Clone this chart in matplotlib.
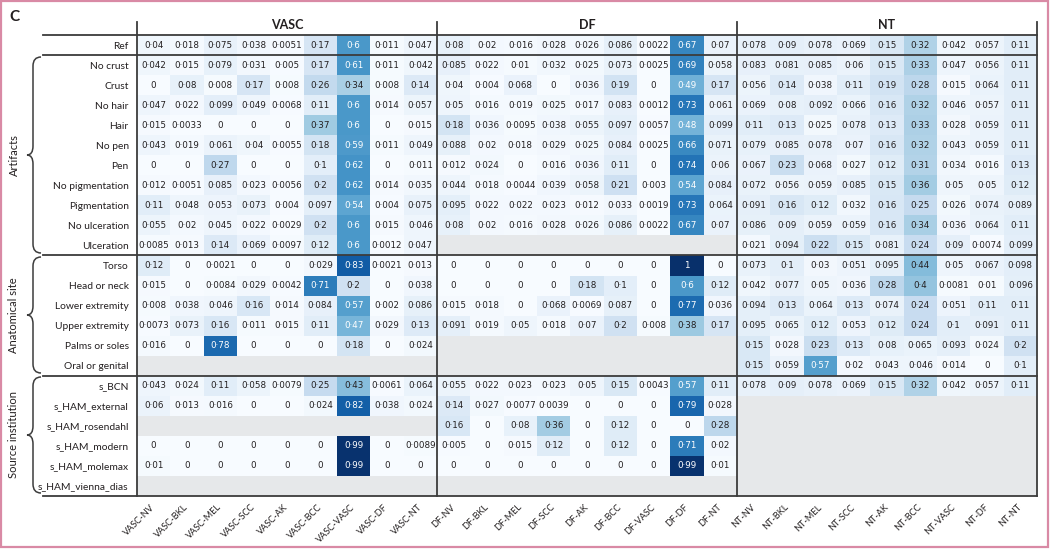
import numpy as np
import matplotlib
matplotlib.use("Agg")
import matplotlib.pyplot as plt
from matplotlib.path import Path
from matplotlib.patches import PathPatch, Rectangle

plt.rcParams['font.family'] = ['Lato', 'DejaVu Sans']

# groups of columns (true class) and predicted class inside each group
groups = ['VASC', 'DF', 'NT']
preds = ['NV', 'BKL', 'MEL', 'SCC', 'AK', 'BCC', 'VASC', 'DF', 'NT']

rows = ['Ref', 'No crust', 'Crust', 'No hair', 'Hair', 'No pen', 'Pen',
        'No pigmentation', 'Pigmentation', 'No ulceration', 'Ulceration',
        'Torso', 'Head or neck', 'Lower extremity', 'Upper extremity',
        'Palms or soles', 'Oral or genital',
        's_BCN', 's_HAM_external', 's_HAM_rosendahl', 's_HAM_modern',
        's_HAM_molemax', 's_HAM_vienna_dias']

# row groups: (label, first row, last row + 1)
row_groups = [('Artifacts', 1, 11), ('Anatomical site', 11, 17),
              ('Source institution', 17, 23)]

N = None
vasc = [
    [0.04, 0.018, 0.075, 0.038, 0.0051, 0.17, 0.6, 0.011, 0.047],
    [0.042, 0.015, 0.079, 0.031, 0.005, 0.17, 0.61, 0.011, 0.042],
    [0, 0.08, 0.008, 0.17, 0.008, 0.26, 0.34, 0.008, 0.14],
    [0.047, 0.022, 0.099, 0.049, 0.0068, 0.11, 0.6, 0.014, 0.057],
    [0.015, 0.0033, 0, 0, 0, 0.37, 0.6, 0, 0.015],
    [0.043, 0.019, 0.061, 0.04, 0.0055, 0.18, 0.59, 0.011, 0.049],
    [0, 0, 0.27, 0, 0, 0.1, 0.62, 0, 0.011],
    [0.012, 0.0051, 0.085, 0.023, 0.0056, 0.2, 0.62, 0.014, 0.035],
    [0.11, 0.048, 0.053, 0.073, 0.004, 0.097, 0.54, 0.004, 0.075],
    [0.055, 0.02, 0.045, 0.022, 0.0029, 0.2, 0.6, 0.015, 0.046],
    [0.0085, 0.013, 0.14, 0.069, 0.0097, 0.12, 0.6, 0.0012, 0.047],
    [0.12, 0, 0.0021, 0, 0, 0.029, 0.83, 0.0021, 0.013],
    [0.015, 0, 0.0084, 0.029, 0.0042, 0.71, 0.2, 0, 0.038],
    [0.008, 0.038, 0.046, 0.16, 0.014, 0.084, 0.57, 0.002, 0.086],
    [0.0073, 0.073, 0.16, 0.011, 0.015, 0.11, 0.47, 0.029, 0.13],
    [0.016, 0, 0.78, 0, 0, 0, 0.18, 0, 0.024],
    [N] * 9,
    [0.043, 0.024, 0.11, 0.058, 0.0079, 0.25, 0.43, 0.0061, 0.064],
    [0.06, 0.013, 0.016, 0, 0, 0.024, 0.82, 0.038, 0.024],
    [N] * 9,
    [0, 0, 0, 0, 0, 0, 0.99, 0, 0.0089],
    [0.01, 0, 0, 0, 0, 0, 0.99, 0, 0],
    [N] * 9,
]

df = [
    [0.08, 0.02, 0.016, 0.028, 0.026, 0.086, 0.0022, 0.67, 0.07],
    [0.085, 0.022, 0.01, 0.032, 0.025, 0.073, 0.0025, 0.69, 0.058],
    [0.04, 0.004, 0.068, 0, 0.036, 0.19, 0, 0.49, 0.17],
    [0.05, 0.016, 0.019, 0.025, 0.017, 0.083, 0.0012, 0.73, 0.061],
    [0.18, 0.036, 0.0095, 0.038, 0.055, 0.097, 0.0057, 0.48, 0.099],
    [0.088, 0.02, 0.018, 0.029, 0.025, 0.084, 0.0025, 0.66, 0.071],
    [0.012, 0.024, 0, 0.016, 0.036, 0.11, 0, 0.74, 0.06],
    [0.044, 0.018, 0.0044, 0.039, 0.058, 0.21, 0.003, 0.54, 0.084],
    [0.095, 0.022, 0.022, 0.023, 0.012, 0.033, 0.0019, 0.73, 0.064],
    [0.08, 0.02, 0.016, 0.028, 0.026, 0.086, 0.0022, 0.67, 0.07],
    [N] * 9,
    [0, 0, 0, 0, 0, 0, 0, 1, 0],
    [0, 0, 0, 0, 0.18, 0.1, 0, 0.6, 0.12],
    [0.015, 0.018, 0, 0.068, 0.0069, 0.087, 0, 0.77, 0.036],
    [0.091, 0.019, 0.05, 0.018, 0.07, 0.2, 0.008, 0.38, 0.17],
    [N] * 9,
    [N] * 9,
    [0.055, 0.022, 0.023, 0.023, 0.05, 0.15, 0.0043, 0.57, 0.11],
    [0.14, 0.027, 0.0077, 0.0039, 0, 0, 0, 0.79, 0.028],
    [0.16, 0, 0.08, 0.36, 0, 0.12, 0, 0, 0.28],
    [0.005, 0, 0.015, 0.12, 0, 0.12, 0, 0.71, 0.02],
    [0, 0, 0, 0, 0, 0, 0, 0.99, 0.01],
    [N] * 9,
]

nt = [
    [0.078, 0.09, 0.078, 0.069, 0.15, 0.32, 0.042, 0.057, 0.11],
    [0.083, 0.081, 0.085, 0.06, 0.15, 0.33, 0.047, 0.056, 0.11],
    [0.056, 0.14, 0.038, 0.11, 0.19, 0.28, 0.015, 0.064, 0.11],
    [0.069, 0.08, 0.092, 0.066, 0.16, 0.32, 0.046, 0.057, 0.11],
    [0.11, 0.13, 0.025, 0.078, 0.13, 0.33, 0.028, 0.059, 0.11],
    [0.079, 0.085, 0.078, 0.07, 0.16, 0.32, 0.043, 0.059, 0.11],
    [0.067, 0.23, 0.068, 0.027, 0.12, 0.31, 0.034, 0.016, 0.13],
    [0.072, 0.056, 0.059, 0.085, 0.15, 0.36, 0.05, 0.05, 0.12],
    [0.091, 0.16, 0.12, 0.032, 0.16, 0.25, 0.026, 0.074, 0.089],
    [0.086, 0.09, 0.059, 0.059, 0.16, 0.34, 0.036, 0.064, 0.11],
    [0.021, 0.094, 0.22, 0.15, 0.081, 0.24, 0.09, 0.0074, 0.099],
    [0.073, 0.1, 0.03, 0.051, 0.095, 0.44, 0.05, 0.067, 0.098],
    [0.042, 0.077, 0.05, 0.036, 0.28, 0.4, 0.0081, 0.01, 0.096],
    [0.094, 0.13, 0.064, 0.13, 0.074, 0.24, 0.051, 0.11, 0.11],
    [0.095, 0.065, 0.12, 0.053, 0.12, 0.24, 0.1, 0.091, 0.11],
    [0.15, 0.028, 0.23, 0.13, 0.08, 0.065, 0.093, 0.024, 0.2],
    [0.15, 0.059, 0.57, 0.02, 0.043, 0.046, 0.014, 0, 0.1],
    [0.078, 0.09, 0.078, 0.069, 0.15, 0.32, 0.042, 0.057, 0.11],
    [N] * 9,
    [N] * 9,
    [N] * 9,
    [N] * 9,
    [N] * 9,
]

cols = [g + '-' + p for g in groups for p in preds]
vals = np.hstack([np.array(b, dtype=float) for b in (vasc, df, nt)])
nr, nc = vals.shape

W, H = 1050, 549
fig = plt.figure(figsize=(W / 100, H / 100), dpi=100)
ax = fig.add_axes([137 / W, 1 - 496 / H, 900 / W, 461 / H])

cmap = plt.get_cmap('Blues').with_extremes(bad='#e6e8ea')
ax.pcolormesh(np.arange(nc + 1), np.arange(nr + 1), np.ma.masked_invalid(vals),
              cmap=cmap, vmin=0, vmax=1)
ax.set_facecolor('#e6e8ea')
ax.set_xlim(0, nc)
ax.set_ylim(nr, 0)
for s in ax.spines.values():
    s.set_visible(False)

for i in range(nr):
    for j in range(nc):
        v = vals[i, j]
        if np.isnan(v):
            continue
        ax.text(j + 0.5, i + 0.5, '{:g}'.format(v).replace('.', '\u00b7'),
                ha='center', va='center', fontsize=6.3,
                family='DejaVu Sans',
                color='white' if v > 0.45 else '#231f20')

ax.set_xticks(np.arange(nc) + 0.5)
ax.set_xticklabels(cols, rotation=45, ha='right', va='center',
                   rotation_mode='anchor', fontsize=6.6, color='#231f20')
ax.set_yticks(np.arange(nr) + 0.5)
ax.set_yticklabels(rows, fontsize=7.4, color='#231f20')
ax.tick_params(length=0)
ax.tick_params(axis='x', pad=7)
ax.tick_params(axis='y', pad=6)

lc = '#3c3c3c'
x_left = (43 - 137) / (900 / nc)
for y in [0, 1] + [g[2] for g in row_groups]:
    ax.plot([x_left, nc], [y, y], color=lc, lw=1.3, clip_on=False)
for k in range(len(groups) + 1):
    ax.plot([k * 9, k * 9], [-0.65, nr], color=lc, lw=1.3, clip_on=False)
for k, g in enumerate(groups):
    ax.text(k * 9 + 4.5, -0.52, g, ha='center', va='center', fontsize=9,
            fontweight='bold', color='#231f20')

# overlay in pixel coordinates for braces, labels and frame
ov = fig.add_axes([0, 0, 1, 1])
ov.set_xlim(0, W)
ov.set_ylim(H, 0)
ov.axis('off')
ov.patch.set_alpha(0)


def brace(y0, y1, x_tip=27, x_mid=33, x_end=41, r=9):
    ym = (y0 + y1) / 2
    verts = [(x_end, y0), (x_mid, y0), (x_mid, y0 + r), (x_mid, ym - r),
             (x_mid, ym), (x_tip, ym), (x_mid, ym), (x_mid, ym + r),
             (x_mid, y1 - r), (x_mid, y1), (x_end, y1)]
    codes = [Path.MOVETO, Path.CURVE3, Path.CURVE3, Path.LINETO,
             Path.CURVE3, Path.CURVE3, Path.CURVE3, Path.CURVE3,
             Path.LINETO, Path.CURVE3, Path.CURVE3]
    ov.add_patch(PathPatch(Path(verts, codes), fill=False, ec=lc, lw=1.1))


for label, r0, r1 in row_groups:
    y0 = 35 + r0 * 20 + 2
    y1 = 35 + r1 * 20 - 2
    brace(y0, y1)
    ov.text(14, (y0 + y1) / 2, label, rotation=90, ha='center', va='center',
            fontsize=8, color='#231f20')

ov.text(9, 17, 'C', fontsize=11, fontweight='bold', va='center', ha='left',
        color='#231f20')
ov.add_patch(Rectangle((1, 1), W - 3, H - 3, fill=False, ec='#d98aa5', lw=1.6))

fig.savefig('out.png', dpi=100)
